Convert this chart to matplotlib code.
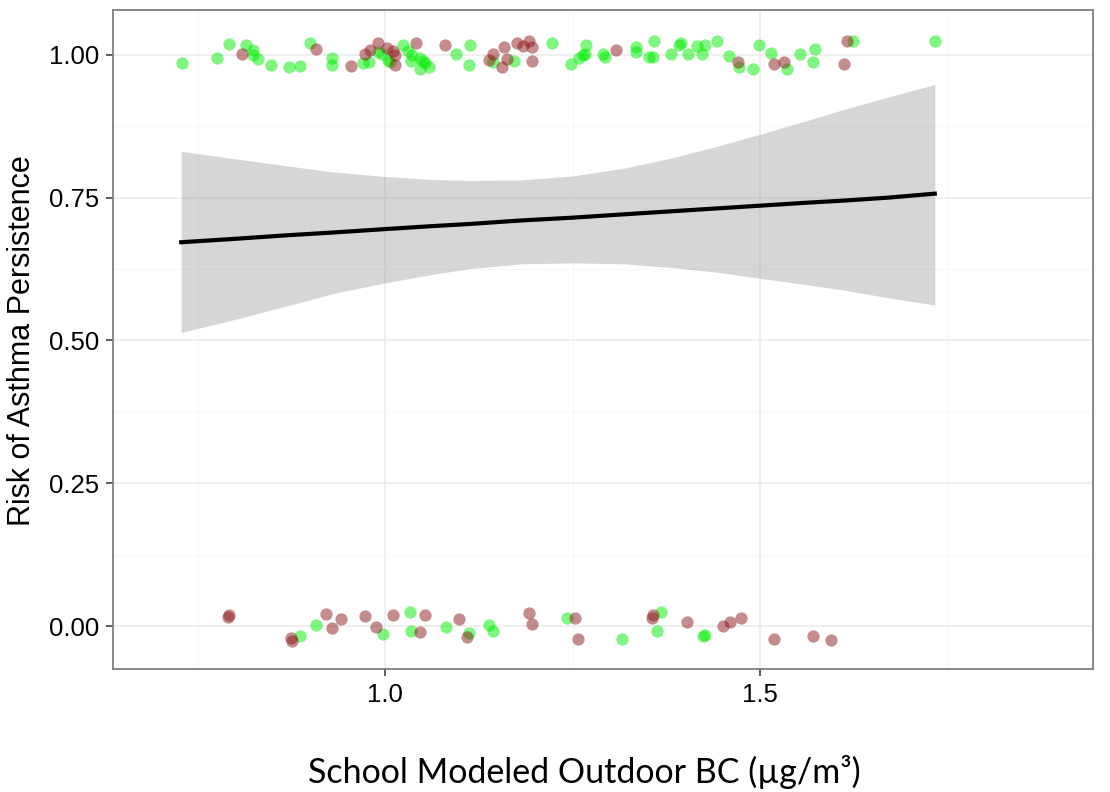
import matplotlib.pyplot as plt
import numpy as np

# 数据: 学校模拟室外BC 与 哮喘持续 (抖动后的点)
top_green_x = [0.729, 0.776, 0.792, 0.815, 0.824, 0.824, 0.830, 0.848, 0.872, 0.887,
               0.900, 0.929, 0.929, 0.971, 0.979, 0.991, 0.996, 1.004, 1.007, 1.024,
               1.031, 1.036, 1.035, 1.046, 1.051, 1.046, 1.058, 1.053, 1.094, 1.113,
               1.112, 1.144, 1.172, 1.222, 1.248, 1.259, 1.264, 1.268, 1.266, 1.291,
               1.293, 1.335, 1.335, 1.352, 1.358, 1.357, 1.381, 1.394, 1.392, 1.404,
               1.416, 1.427, 1.422, 1.443, 1.458, 1.472, 1.490, 1.499, 1.514, 1.536,
               1.553, 1.573, 1.570, 1.624, 1.733]
top_green_y = [0.985, 0.994, 1.019, 1.018, 1.008, 0.999, 0.992, 0.983, 0.979, 0.981,
               1.021, 0.995, 0.983, 0.985, 0.988, 1.005, 1.002, 0.991, 0.988, 1.017,
               1.006, 0.999, 0.989, 0.995, 0.989, 0.976, 0.979, 0.985, 1.001, 1.017,
               0.982, 0.988, 0.990, 1.020, 0.984, 0.995, 0.999, 1.018, 1.002, 1.002,
               0.997, 1.014, 1.005, 0.997, 1.024, 0.997, 1.001, 1.020, 1.017, 1.002,
               1.015, 1.017, 1.001, 1.024, 0.998, 0.979, 0.976, 1.018, 1.003, 0.976,
               1.001, 1.011, 0.988, 1.024, 1.024]

top_red_x = [0.809, 0.908, 0.955, 0.973, 0.980, 0.991, 1.002, 1.011, 1.013, 1.013,
             1.041, 1.080, 1.144, 1.138, 1.156, 1.159, 1.163, 1.176, 1.184, 1.192,
             1.196, 1.196, 1.308, 1.470, 1.519, 1.532, 1.612, 1.616]
top_red_y = [1.001, 1.010, 0.980, 1.001, 1.008, 1.020, 1.012, 1.006, 0.999, 0.983,
             1.021, 1.017, 1.002, 0.991, 0.978, 1.014, 0.992, 1.020, 1.016, 1.024,
             1.014, 0.990, 1.009, 0.987, 0.984, 0.988, 0.984, 1.024]

bot_green_x = [0.886, 0.908, 0.997, 1.033, 1.035, 1.081, 1.112, 1.139, 1.144, 1.242,
               1.316, 1.362, 1.368, 1.424, 1.426]
bot_green_y = [-0.017, 0.002, -0.014, 0.024, -0.009, -0.001, -0.012, 0.002, -0.008, 0.014,
               -0.023, -0.008, 0.024, -0.017, -0.015]

bot_red_x = [0.791, 0.792, 0.874, 0.876, 0.921, 0.929, 0.941, 0.973, 0.988, 1.011,
             1.046, 1.053, 1.099, 1.109, 1.192, 1.196, 1.253, 1.257, 1.356, 1.357,
             1.402, 1.450, 1.460, 1.475, 1.518, 1.570, 1.595]
bot_red_y = [0.016, 0.019, -0.020, -0.026, 0.022, -0.004, 0.012, 0.017, -0.001, 0.020,
             -0.010, 0.020, 0.012, -0.019, 0.023, 0.003, 0.014, -0.023, 0.014, 0.019,
             0.007, 0.001, 0.008, 0.015, -0.022, -0.017, -0.024]

# 拟合曲线与置信区间
fit_x = [0.728, 0.80, 0.867, 0.93, 1.0, 1.06, 1.113, 1.18, 1.25, 1.32, 1.38, 1.44,
         1.5, 1.56, 1.613, 1.67, 1.733]
fit_y = [0.672, 0.678, 0.684, 0.689, 0.695, 0.700, 0.704, 0.710, 0.715, 0.721, 0.726,
         0.731, 0.736, 0.741, 0.745, 0.750, 0.757]
fit_hi = [0.831, 0.818, 0.806, 0.795, 0.787, 0.782, 0.780, 0.781, 0.788, 0.802, 0.819,
          0.839, 0.861, 0.884, 0.905, 0.926, 0.948]
fit_lo = [0.514, 0.537, 0.560, 0.582, 0.601, 0.615, 0.626, 0.634, 0.636, 0.634, 0.628,
          0.620, 0.609, 0.598, 0.588, 0.575, 0.562]

green = '#00ee00'
red = '#8b1a1a'

fig = plt.figure(figsize=(11.1, 7.92), dpi=100)
ax = fig.add_axes([113 / 1110, 1 - 669 / 792, 980 / 1110, 659 / 792])

ax.set_xlim(0.637, 1.944)
ax.set_ylim(-0.075, 1.0785)

# 网格
ax.set_xticks([1.0, 1.5])
ax.set_xticks([0.75, 1.25, 1.75], minor=True)
ax.set_yticks([0, 0.25, 0.5, 0.75, 1.0])
ax.set_yticks([0.125, 0.375, 0.625, 0.875], minor=True)
ax.grid(which='major', color='#ebebeb', linewidth=1.1)
ax.grid(which='minor', color='#f5f5f5', linewidth=0.6)
ax.set_axisbelow(True)

ax.scatter(top_green_x, top_green_y, s=78, color=green, alpha=0.5, linewidths=0)
ax.scatter(top_red_x, top_red_y, s=78, color=red, alpha=0.5, linewidths=0)
ax.scatter(bot_green_x, bot_green_y, s=78, color=green, alpha=0.5, linewidths=0)
ax.scatter(bot_red_x, bot_red_y, s=78, color=red, alpha=0.5, linewidths=0)

ax.fill_between(fit_x, fit_lo, fit_hi, color='#999999', alpha=0.4, linewidth=0)
ax.plot(fit_x, fit_y, color='black', linewidth=3)

ax.set_yticklabels(['0.00', '0.25', '0.50', '0.75', '1.00'])
ax.set_xticklabels(['1.0', '1.5'])
ax.tick_params(which='major', length=5, width=1.1, color='#333333', pad=5,
               labelsize=18.5, labelcolor='black')
ax.tick_params(which='minor', length=0)
for lab in ax.get_xticklabels() + ax.get_yticklabels():
    lab.set_family('Liberation Sans')
for sp in ax.spines.values():
    sp.set_color('#7f7f7f')
    sp.set_linewidth(1.3)

fig.text(22 / 1110, 1 - 341 / 792, 'Risk of Asthma Persistence', rotation=90,
         ha='center', va='center', fontsize=22, family='Liberation Sans')
fig.text(584.5 / 1110, 1 - 772 / 792, 'School Modeled Outdoor BC (\u00b5g/m\u00b3)',
         ha='center', va='center', fontsize=24.5, family='Lato')

fig.savefig('out.png', dpi=100)
